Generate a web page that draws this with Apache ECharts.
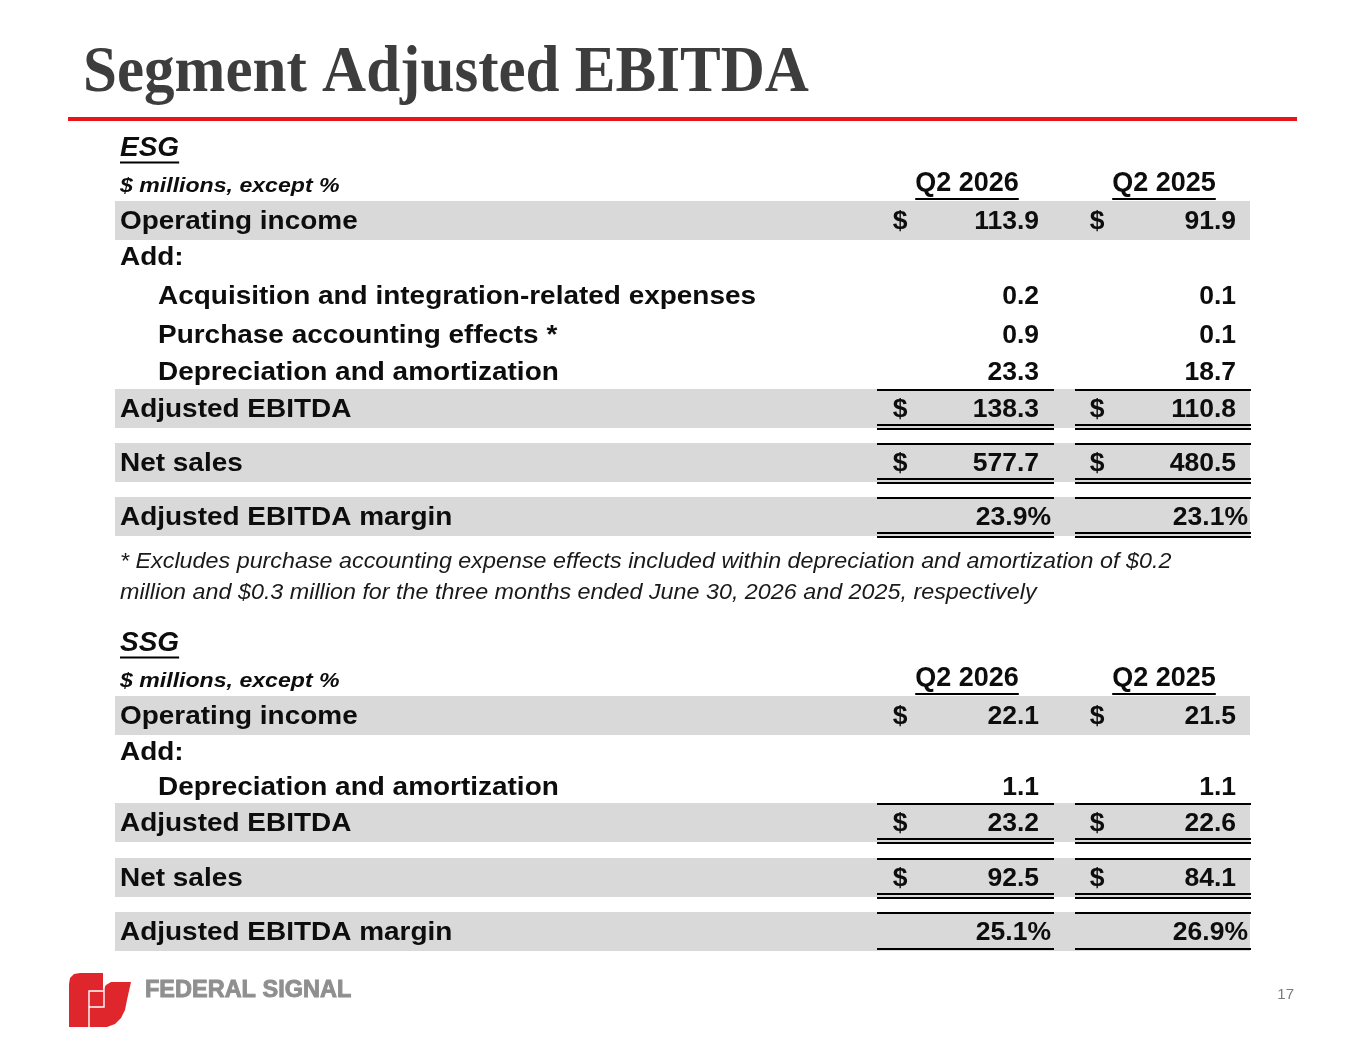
<!DOCTYPE html>
<html><head><meta charset="utf-8">
<script src="https://cdn.jsdelivr.net/npm/echarts@6/dist/echarts.min.js"></script>
<style>html,body{margin:0;padding:0;background:#fff}#c{width:1365px;height:1055px}</style>
</head><body><div id="c"></div>
<script>
// ---------------- DATA ----------------
const title = 'Segment Adjusted EBITDA';
const periods = ['Q2 2026', 'Q2 2025'];
const unitNote = '$ millions, except %';

const esgName = 'ESG';
const esgLabels = ['Operating income', 'Add:', 'Acquisition and integration-related expenses',
  'Purchase accounting effects *', 'Depreciation and amortization', 'Adjusted EBITDA', 'Net sales',
  'Adjusted EBITDA margin'];
const esgQ2026 = [113.9, null, 0.2, 0.9, 23.3, 138.3, 577.7, 23.9];
const esgQ2025 = [91.9, null, 0.1, 0.1, 18.7, 110.8, 480.5, 23.1];

const ssgName = 'SSG';
const ssgLabels = ['Operating income', 'Add:', 'Depreciation and amortization', 'Adjusted EBITDA',
  'Net sales', 'Adjusted EBITDA margin'];
const ssgQ2026 = [22.1, null, 1.1, 23.2, 92.5, 25.1];
const ssgQ2025 = [21.5, null, 1.1, 22.6, 84.1, 26.9];

const footnote = [
  '* Excludes purchase accounting expense effects included within depreciation and amortization of $0.2',
  'million and $0.3 million for the three months ended June 30, 2026 and 2025, respectively'
];
const brand = 'FEDERAL SIGNAL';
const pageNumber = '17';

// ---------------- LAYOUT / STYLE ----------------
const esgKinds = ['dollar', 'plain', 'indent', 'indent', 'indent', 'dollar', 'dollar', 'pct'];
const ssgKinds = ['dollar', 'plain', 'indent', 'dollar', 'dollar', 'pct'];
const esgRowY = [220, 256, 295, 334, 371, 408, 462, 516];
const ssgRowY = [715, 751, 786, 822, 877, 931];
const esgBand = [1, 0, 0, 0, 0, 1, 1, 1];
const ssgBand = [1, 0, 0, 1, 1, 1];
const esgTopLine = [0, 0, 0, 0, 0, 1, 1, 1];
const ssgTopLine = [0, 0, 0, 1, 1, 1];
const esgBottom = [0, 0, 0, 0, 0, 2, 2, 2]; // 2 = double, 1 = single
const ssgBottom = [0, 0, 0, 2, 2, 1];

const FONT = '"Liberation Sans", Arial, sans-serif';
const BAND = '#d9d9d9';
const INK = '#0d0d0d';
const TEXT_DY = 1.5;
const cols = [
  { dollarX: 900, numRight: 1039, pctRight: 1051, lineX1: 877, lineX2: 1054, headX: 967 },
  { dollarX: 1097, numRight: 1236, pctRight: 1248, lineX1: 1075, lineX2: 1251, headX: 1164 }
];
const labelX = 120, indentX = 158, bandX1 = 115, bandX2 = 1250;

const measureCtx = document.createElement('canvas').getContext('2d');
function textWidth(txt, font) { measureCtx.font = font; return measureCtx.measureText(txt).width; }

const g = [];
function txt(text, x, y, font, fill, align, sx, stroke) {
  const style = { text, x: 0, y: 0, font, fill: fill || INK, align: align || 'left', textAlign: align || 'left',
    verticalAlign: 'middle', textVerticalAlign: 'middle' };
  if (stroke) { style.stroke = fill; style.lineWidth = stroke; }
  g.push({ type: 'text', silent: true, x, y, scaleX: sx || 1, style });
}
function hline(x1, x2, y, w, color) {
  g.push({ type: 'line', silent: true, shape: { x1, y1: y, x2, y2: y },
    style: { stroke: color || '#000', lineWidth: w } });
}
function rect(x, y, w, h, fill) {
  g.push({ type: 'rect', silent: true, shape: { x, y, width: w, height: h }, style: { fill } });
}

// Title & rule
txt(title, 83, 74, 'bold 66px "Liberation Serif", "DejaVu Serif", serif', '#3d3d3d', 'left', 0.925);
rect(68, 117, 1229, 4, '#e8151b');

function section(offsetY, name, labels, v1, v2, kinds, rowY, band, topLine, bottom) {
  const hFont = 'italic bold 28px ' + FONT;
  txt(name, labelX, 148 + offsetY, hFont);
  hline(labelX, labelX + textWidth(name, hFont), 162.5 + offsetY, 2);
  txt(unitNote, labelX, 186 + offsetY, 'italic bold 21px ' + FONT, INK, 'left', 1.1);
  const qFont = 'bold 27px ' + FONT;
  periods.forEach((p, i) => {
    txt(p, cols[i].headX, 184 + offsetY, qFont, INK, 'center');
    const w = textWidth(p, qFont);
    hline(cols[i].headX - w / 2, cols[i].headX + w / 2, 199 + offsetY, 2);
  });
  const rowFont = 'bold 26.5px ' + FONT;
  labels.forEach((lab, r) => {
    if (band[r]) rect(bandX1, rowY[r] - 19, bandX2 - bandX1, 39, BAND);
  });
  labels.forEach((lab, r) => {
    const y = rowY[r];
    const ty = y + TEXT_DY;
    const kind = kinds[r];
    txt(lab, kind === 'indent' ? indentX : labelX, ty, rowFont, INK, 'left', 1.055);
    [v1[r], v2[r]].forEach((v, c) => {
      const col = cols[c];
      if (v === null || v === undefined) return;
      if (kind === 'pct') {
        txt(v.toFixed(1) + '%', col.pctRight, ty, rowFont, INK, 'right');
      } else {
        if (kind === 'dollar') txt('$', col.dollarX, ty, rowFont, INK, 'center');
        txt(v.toFixed(1), col.numRight, ty, rowFont, INK, 'right');
      }
      if (topLine[r]) hline(col.lineX1, col.lineX2, y - 18, 2.2);
      if (bottom[r] === 2) { hline(col.lineX1, col.lineX2, y + 17, 2.2); hline(col.lineX1, col.lineX2, y + 21, 2); }
      else if (bottom[r] === 1) hline(col.lineX1, col.lineX2, y + 18, 2.2);
    });
  });
}

section(0, esgName, esgLabels, esgQ2026, esgQ2025, esgKinds, esgRowY, esgBand, esgTopLine, esgBottom);
footnote.forEach((line, i) => txt(line, labelX, 562 + i * 31, 'italic 22px ' + FONT, '#1a1a1a', 'left', 1.06));
section(495, ssgName, ssgLabels, ssgQ2026, ssgQ2025, ssgKinds, ssgRowY, ssgBand, ssgTopLine, ssgBottom);

// Logo
const RED = '#e0262d';
g.push({ type: 'polygon', silent: true, shape: { points: [
  [69, 1027], [69, 984], [70, 978], [74, 974], [80, 973], [103, 973], [103, 990], [106, 985], [111, 982], [131, 982],
  [127, 1000], [125, 1010], [121, 1018], [115, 1024], [107, 1027]] }, style: { fill: RED } });
g.push({ type: 'polyline', silent: true, shape: { points: [[104, 984], [104, 1007], [89, 1007]] },
  style: { stroke: '#fff', lineWidth: 1.4, fill: null } });
g.push({ type: 'polyline', silent: true, shape: { points: [[104, 991], [89, 991], [89, 1027]] },
  style: { stroke: '#fff', lineWidth: 1.4, fill: null } });
txt(brand, 145, 991, 'bold 23.5px ' + FONT, '#8f8f8f', 'left', 1, 0.9);
txt(pageNumber, 1294, 995, '15px "Liberation Sans", Arial, sans-serif', '#7a7a7a', 'right');

const chart = echarts.init(document.getElementById('c'));
chart.setOption({ animation: false, graphic: { elements: g } });
</script></body></html>
